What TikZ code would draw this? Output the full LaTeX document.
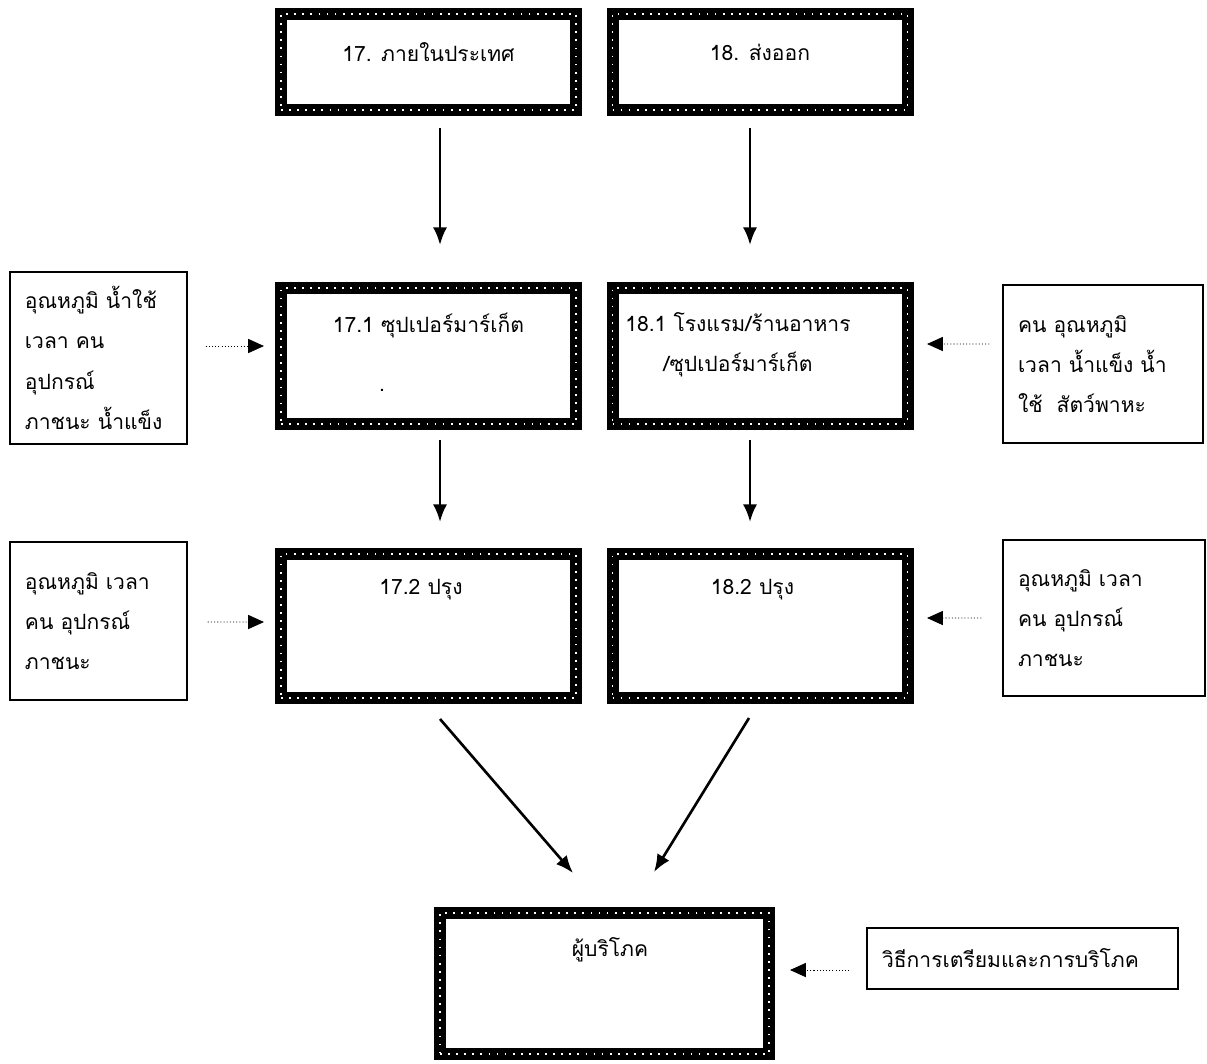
\documentclass[tikz,border=0pt]{standalone}
\usepackage{fontspec}
\setmainfont[Script=Thai]{Loma}
\usetikzlibrary{arrows.meta,positioning}

\tikzset{
  heavy/.style={draw,line width=0.24cm,inner sep=0pt,outer sep=0.12cm,
    postaction={draw=white,line width=1.1pt,dash pattern=on 1pt off 3.6pt}},
  factor/.style={draw,line width=0.8pt,inner xsep=0.3cm,inner ysep=0pt,align=left,
    font=\fontsize{12pt}{23pt}\selectfont},
  boxtext/.style={align=center,inner sep=0pt,font=\fontsize{12pt}{23pt}\selectfont},
  flow/.style={line width=1.5pt,-{Latex[length=10pt,width=8pt]}},
  feed/.style={line width=0.5pt,dash pattern=on 0.6pt off 1.2pt,-{Triangle[length=9pt,width=8pt]}}
}

\begin{document}
\begin{tikzpicture}
  \useasboundingbox (0,0) rectangle (24.14,-21.26);
  % chain of the heavy boxes
  \node(b17)  [heavy,minimum width=5.9cm,minimum height=1.92cm] at (8.57,-1.24)  {};
  \node(b18)  [heavy,minimum width=5.9cm,minimum height=1.92cm] at (15.2,-1.24)  {};
  \node(b171) [heavy,minimum width=5.9cm,minimum height=2.72cm] at (8.57,-7.12)  {};
  \node(b181) [heavy,minimum width=5.9cm,minimum height=2.72cm] at (15.2,-7.12)  {};
  \node(b172) [heavy,minimum width=5.9cm,minimum height=2.88cm] at (8.57,-12.52) {};
  \node(b182) [heavy,minimum width=5.9cm,minimum height=2.88cm] at (15.2,-12.52) {};
  \node(cons) [heavy,minimum width=6.58cm,minimum height=2.82cm] at (12.09,-19.67) {};

  \node(t17)  [boxtext] at ([yshift=-0.88cm]b17.north)               {17. ภายในประเทศ};
  \node(t18)  [boxtext] at ([yshift=-0.88cm]b18.north)               {18. ส่งออก};
  \node(t171) [boxtext] at ([yshift=-0.86cm]b171.north)              {17.1 ซุปเปอร์มาร์เก็ต};
  \node(dot)  [boxtext] at (7.64,-7.8)                               {.};
  \node(t181) [boxtext] at ([xshift=-0.44cm,yshift=-1.26cm]b181.north) {18.1 โรงแรม/ร้านอาหาร\\/ซุปเปอร์มาร์เก็ต};
  \node(t172) [boxtext] at ([xshift=-0.15cm,yshift=-0.84cm]b172.north) {17.2 ปรุง};
  \node(t182) [boxtext] at ([xshift=-0.15cm,yshift=-0.84cm]b182.north) {18.2 ปรุง};
  \node(tcons)[boxtext] at ([xshift=0.11cm,yshift=-0.86cm]cons.north)  {ผู้บริโภค};

  % factors at the sides
  \node(l1) [factor,text width=2.94cm,minimum height=3.44cm] at (1.97,-7.16)
    {อุณหภูมิ น้ำใช้\\เวลา คน\\อุปกรณ์\\ภาชนะ น้ำแข็ง};
  \node(r1) [factor,text width=3.4cm,minimum height=3.16cm] at (22.06,-7.28)
    {คน อุณหภูมิ\\เวลา น้ำแข็ง น้ำ\\ใช้~ สัตว์พาหะ};
  \node(l2) [factor,text width=2.94cm,minimum height=3.16cm] at (1.97,-12.42)
    {อุณหภูมิ เวลา\\คน อุปกรณ์\\ภาชนะ};
  \node(r2) [factor,text width=3.44cm,minimum height=3.12cm] at (22.08,-12.36)
    {อุณหภูมิ เวลา\\คน อุปกรณ์\\ภาชนะ};
  \node(r3) [factor,text width=5.62cm,minimum height=1.22cm] at (20.45,-19.17)
    {วิธีการเตรียมและการบริโภค};

  \draw[flow] ([xshift=0.23cm,yshift=-0.24cm]b17.south)  -- ([xshift=0.23cm,yshift=0.74cm]b171.north);
  \draw[flow] ([xshift=-0.2cm,yshift=-0.24cm]b18.south)  -- ([xshift=-0.2cm,yshift=0.74cm]b181.north);
  \draw[flow] ([xshift=0.23cm,yshift=-0.2cm]b171.south)  -- ([xshift=0.23cm,yshift=0.52cm]b172.north);
  \draw[flow] ([xshift=-0.2cm,yshift=-0.2cm]b181.south)  -- ([xshift=-0.2cm,yshift=0.52cm]b182.north);
  \draw[flow] ([shift={(0.23,-0.3)}]b172.south)  -- ([shift={(-0.63,0.68)}]cons.north);
  \draw[flow] ([shift={(-0.22,-0.28)}]b182.south) -- ([shift={(0.99,0.7)}]cons.north);

  \draw[feed] ([shift={(0.36,0.24)}]l1.east)   -- ([shift={(-0.22,0.2)}]b171.west);
  \draw[feed] ([shift={(-0.26,0.4)}]r1.west)   -- ([shift={(0.27,0.24)}]b181.east);
  \draw[feed] ([shift={(0.4,-0.02)}]l2.east)   -- ([shift={(-0.22,0.08)}]b172.west);
  \draw[feed] ([shift={(-0.42,0)}]r2.west)     -- ([shift={(0.27,0.16)}]b182.east);
  \draw[feed] ([shift={(-0.34,-0.23)}]r3.west) -- ([shift={(0.3,0.27)}]cons.east);
\end{tikzpicture}
\end{document}
